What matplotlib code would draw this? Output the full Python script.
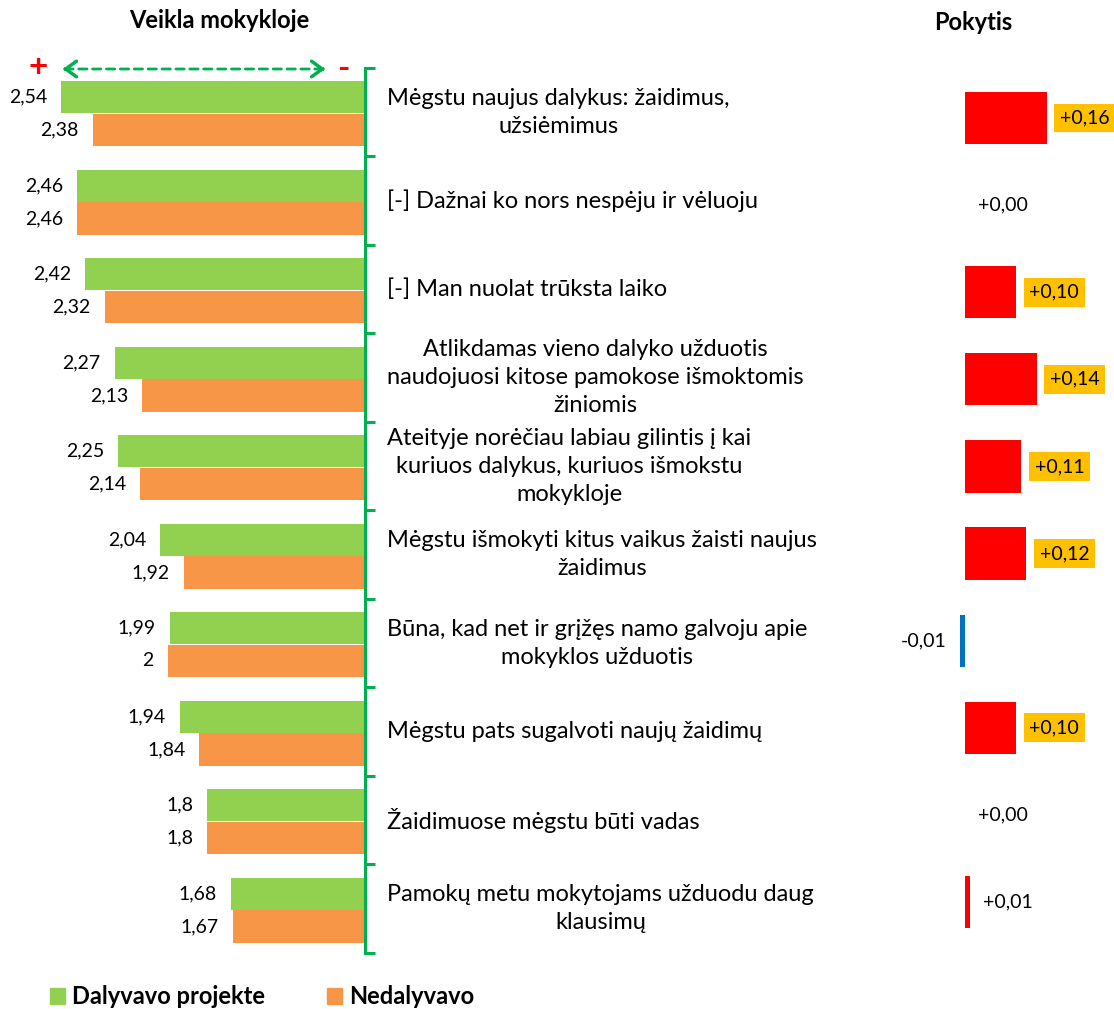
import matplotlib
matplotlib.use('Agg')
import matplotlib.pyplot as plt
from matplotlib.patches import Patch
import numpy as np

plt.rcParams['font.family'] = ['Lato', 'DejaVu Sans']
plt.rcParams['font.size'] = 14

# data
categories = [
    'Mėgstu naujus dalykus: žaidimus,\nužsiėmimus',
    '[-] Dažnai ko nors nespėju ir vėluoju',
    '[-] Man nuolat trūksta laiko',
    'Atlikdamas vieno dalyko užduotis\nnaudojuosi kitose pamokose išmoktomis\nžiniomis',
    'Ateityje norėčiau labiau gilintis į kai\nkuriuos dalykus, kuriuos išmokstu\nmokykloje',
    'Mėgstu išmokyti kitus vaikus žaisti naujus\nžaidimus',
    'Būna, kad net ir grįžęs namo galvoju apie\nmokyklos užduotis',
    'Mėgstu pats sugalvoti naujų žaidimų',
    'Žaidimuose mėgstu būti vadas',
    'Pamokų metu mokytojams užduodu daug\nklausimų',
]
dalyvavo = [2.54, 2.46, 2.42, 2.27, 2.25, 2.04, 1.99, 1.94, 1.8, 1.68]
nedalyvavo = [2.38, 2.46, 2.32, 2.13, 2.14, 1.92, 2, 1.84, 1.8, 1.67]
pokytis = [0.16, 0.00, 0.10, 0.14, 0.11, 0.12, -0.01, 0.10, 0.00, 0.01]
series_names = ['Dalyvavo projekte', 'Nedalyvavo']

GREEN = '#92D050'
ORANGE = '#F79646'
AXIS_GREEN = '#00B050'
RED = '#FF0000'
BLUE = '#0070C0'
GOLD = '#FFC000'
BIG = 17  # category labels, titles, legend

W, H = 1114, 1009
fig = plt.figure(figsize=(W / 100, H / 100), dpi=100)


def px_axes(x0, y0, x1, y1):
    # box given in pixels from the top-left corner
    return fig.add_axes([x0 / W, 1 - y1 / H, (x1 - x0) / W, (y1 - y0) / H])


def fmt(v):
    return f'{v:g}'.replace('.', ',')


# left panel
base = 1.0
ax = px_axes(10, 68, 365, 953)
y = np.arange(len(categories))
ax.barh(y - 0.17, np.array(dalyvavo) - base, left=base, height=0.36, color=GREEN)
ax.barh(y + 0.20, np.array(nedalyvavo) - base, left=base, height=0.37, color=ORANGE)
ax.set_xlim(2.80, base)
ax.set_ylim(len(categories) - 0.5, -0.5)

for i, (g, o) in enumerate(zip(dalyvavo, nedalyvavo)):
    ax.annotate(fmt(g), xy=(g, i - 0.17), xytext=(-10, 0), textcoords='offset points',
                ha='right', va='center')
    ax.annotate(fmt(o), xy=(o, i + 0.20), xytext=(-10, 0), textcoords='offset points',
                ha='right', va='center')
    ax.annotate(categories[i], xy=(1, i), xycoords=('axes fraction', 'data'),
                xytext=(16, 0), textcoords='offset points',
                ha='left', va='center', ma='center', linespacing=1.42, fontsize=BIG)

for s in ['left', 'top', 'bottom']:
    ax.spines[s].set_visible(False)
ax.spines['right'].set_color(AXIS_GREEN)
ax.spines['right'].set_linewidth(2.2)
ax.set_xticks([])
ax.set_yticks(np.arange(-0.5, len(categories), 1))
ax.tick_params(axis='y', left=False, right=True, labelleft=False, labelright=False,
               direction='out', length=7, width=2.2, color=AXIS_GREEN)

# right panel
ax2 = px_axes(880, 74.5, 1114, 945.5)
colors = [RED if d > 0 else BLUE for d in pokytis]
ax2.barh(y, pokytis, height=0.6, color=colors)
ax2.set_xlim(-85 / 512, 149 / 512)
ax2.set_ylim(len(categories) - 0.5, -0.5)
ax2.axis('off')
for i, d in enumerate(pokytis):
    txt = f'{d:+.2f}'.replace('.', ',')
    box = dict(boxstyle='square,pad=0.3', fc=GOLD, ec='none') if d >= 0.1 else None
    if d >= 0:
        ax2.annotate(txt, xy=(d, i), xytext=(9.5, 0), textcoords='offset points',
                     ha='left', va='center', bbox=box)
    else:
        ax2.annotate(txt, xy=(d, i), xytext=(-9.5, 0), textcoords='offset points',
                     ha='right', va='center', bbox=box)

# titles
fig.text(219 / W, 1 - 21 / H, 'Veikla mokykloje', ha='center', va='center',
         weight='bold', fontsize=BIG)
fig.text(973 / W, 1 - 22 / H, 'Pokytis', ha='center', va='center',
         weight='bold', fontsize=BIG)

# + <----> - marker
fig.text(38 / W, 1 - 68 / H, '+', color=RED, weight='bold', fontsize=24,
         ha='center', va='center')
fig.text(343 / W, 1 - 68 / H, '-', color=RED, weight='bold', fontsize=24,
         ha='center', va='center')
ax.annotate('', xy=(326, H - 69), xycoords='figure pixels',
            xytext=(62, H - 69), textcoords='figure pixels',
            arrowprops=dict(arrowstyle='-', linestyle=(0, (3, 2)), color=AXIS_GREEN, lw=2))
ax.annotate('', xy=(60, H - 69), xycoords='figure pixels',
            xytext=(70, H - 69), textcoords='figure pixels',
            arrowprops=dict(arrowstyle='->,head_length=0.55,head_width=0.4',
                            color=AXIS_GREEN, lw=2.5))
ax.annotate('', xy=(328, H - 69), xycoords='figure pixels',
            xytext=(318, H - 69), textcoords='figure pixels',
            arrowprops=dict(arrowstyle='->,head_length=0.55,head_width=0.4',
                            color=AXIS_GREEN, lw=2.5))

# legend
handles = [Patch(color=GREEN, label=series_names[0]), Patch(color=ORANGE, label=series_names[1])]
fig.legend(handles=handles, loc='center left', bbox_to_anchor=(50 / W, 1 - 997 / H),
           ncol=2, frameon=False, prop={'weight': 'bold', 'size': BIG},
           handlelength=0.65, handleheight=0.65, handletextpad=0.3,
           columnspacing=2.6, borderaxespad=0, borderpad=0)

fig.savefig('out.png', dpi=100)
